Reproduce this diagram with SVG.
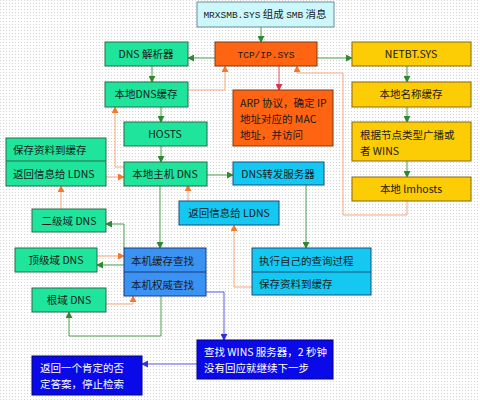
<svg xmlns="http://www.w3.org/2000/svg" width="480" height="400" viewBox="0 0 480 400">
<defs>
<pattern id="dots" width="3" height="3" patternUnits="userSpaceOnUse">
<rect width="3" height="3" fill="#ffffff"/>
<rect width="1" height="1" fill="#d4d4d4"/>
</pattern>
<marker id="ag" viewBox="0 0 8 8" refX="7" refY="4" markerWidth="7" markerHeight="7" orient="auto" markerUnits="userSpaceOnUse"><path d="M0,0 L8,4 L0,8 z" fill="#2f8a2f"/></marker>
<marker id="ao" viewBox="0 0 8 8" refX="7" refY="4" markerWidth="7" markerHeight="7" orient="auto" markerUnits="userSpaceOnUse"><path d="M0,0 L8,4 L0,8 z" fill="#f07a30"/></marker>
<marker id="ar" viewBox="0 0 8 8" refX="7" refY="4" markerWidth="7" markerHeight="7" orient="auto" markerUnits="userSpaceOnUse"><path d="M0,0 L8,4 L0,8 z" fill="#e0304a"/></marker>
<marker id="ab" viewBox="0 0 8 8" refX="7" refY="4" markerWidth="7" markerHeight="7" orient="auto" markerUnits="userSpaceOnUse"><path d="M0,0 L8,4 L0,8 z" fill="#3030e0"/></marker>
</defs>
<style>
text{font-family:"Noto Sans CJK SC","Liberation Sans",sans-serif;font-size:10.5px;fill:#1a1a1a}
.c{text-anchor:middle}
.w{fill:#ffffff}
.mono{font-family:"Liberation Mono","Noto Sans CJK SC",monospace;font-size:9.5px}
.green{fill:#1ee59b;stroke:#2a6a4a;stroke-width:1}
.cyan{fill:#14c8f2;stroke:#1a4a7a;stroke-width:1}
.blue{fill:#3a92f2;stroke:#1a3a7a;stroke-width:1}
.dblue{fill:#0a0ae8;stroke:#000080;stroke-width:1}
.orange{fill:#ff6412;stroke:#7a3a10;stroke-width:1}
.yellow{fill:#fccc04;stroke:#8a6a10;stroke-width:1}
.light{fill:#ccf8fc;stroke:#6a8a9a;stroke-width:1}
.lg{fill:none;stroke:#4a9e4a;stroke-width:1;marker-end:url(#ag)}
.lo{fill:none;stroke:#f5a878;stroke-width:1;marker-end:url(#ao)}
.lr{fill:none;stroke:#e05060;stroke-width:1;marker-end:url(#ar)}
.lb{fill:none;stroke:#5a5ae8;stroke-width:1;marker-end:url(#ab)}
</style>
<rect width="480" height="400" fill="url(#dots)"/>

<g id="connectors">
<path class="lg" d="M261,27 V42"/>
<path class="lg" d="M215,58 H188"/>
<path class="lg" d="M152,66 V82"/>
<path class="lo" d="M188,90 H225 V66"/>
<path class="lg" d="M161,107 V122"/>
<path class="lg" d="M161,146 V162"/>
<path class="lo" d="M124,167 H115 V107"/>
<path class="lo" d="M106,177 H124"/>
<path class="lo" d="M61,209 V186"/>
<path class="lg" d="M124,248 V224 H106"/>
<path class="lo" d="M97,256 H124"/>
<path class="lg" d="M124,265 H97"/>
<path class="lo" d="M106,304 H133 V296"/>
<path class="lg" d="M161,296 V336 H69 V312"/>
<path class="lg" d="M160,185 V248"/>
<path class="lg" d="M206,175 H233"/>
<path class="lo" d="M188,201 V185"/>
<path class="lg" d="M306,185 V248"/>
<path class="lo" d="M252,287 H234 V225"/>
<path class="lb" d="M206,292 H224 V340"/>
<path class="lb" d="M197,364 H142"/>
<path class="lr" d="M279,66 V90"/>
<path class="lg" d="M317,58 H352"/>
<path class="lg" d="M407,66 V82"/>
<path class="lg" d="M407,107 V122"/>
<path class="lg" d="M407,161 V177"/>
<path class="lo" d="M407,201 V215 H343 V73 H297 V66"/>
</g>

<g id="mrxsmb"><rect class="light" x="197" y="2" width="137" height="25"/><text class="c" x="265" y="18"><tspan class="mono">MRXSMB.SYS</tspan> 组成 <tspan class="mono">SMB</tspan> 消息</text></g>
<g id="tcpip"><rect class="orange" x="215" y="42" width="102" height="24"/><text class="c mono" x="266" y="58">TCP/IP.SYS</text></g>
<g id="dns-resolver"><rect class="green" x="105" y="42" width="83" height="24"/><text class="c" x="146" y="58">DNS 解析器</text></g>
<g id="local-dns-cache"><rect class="green" x="105" y="82" width="83" height="25"/><text class="c" x="146" y="98">本地DNS缓存</text></g>
<g id="hosts"><rect class="green" x="124" y="122" width="83" height="24"/><text class="c" x="165" y="138">HOSTS</text></g>
<g id="local-host-dns"><rect class="green" x="124" y="162" width="83" height="24"/><text class="c" x="165" y="178">本地主机 DNS</text></g>
<g id="save-return-left"><rect class="green" x="6" y="138" width="100" height="48"/><line x1="6" y1="161" x2="106" y2="161" stroke="#2a6a4a"/><text x="13" y="154">保存资料到缓存</text><text x="13" y="178">返回信息给 LDNS</text></g>
<g id="second-level"><rect class="green" x="32" y="209" width="74" height="23"/><text class="c" x="69" y="225">二级域 DNS</text></g>
<g id="top-level"><rect class="green" x="15" y="248" width="82" height="24"/><text class="c" x="56" y="264">顶级域 DNS</text></g>
<g id="root"><rect class="green" x="32" y="288" width="74" height="24"/><text class="c" x="69" y="304">根域 DNS</text></g>
<g id="local-lookup"><rect class="blue" x="124" y="248" width="82" height="48"/><line x1="124" y1="272" x2="206" y2="272" stroke="#1a3a7a"/><text x="131" y="265">本机缓存查找</text><text x="131" y="289">本机权威查找</text></g>
<g id="forwarder"><rect class="cyan" x="233" y="162" width="91" height="23"/><text class="c" x="278" y="178">DNS转发服务器</text></g>
<g id="return-mid"><rect class="cyan" x="179" y="201" width="100" height="24"/><text class="c" x="229" y="217">返回信息给 LDNS</text></g>
<g id="own-query"><rect class="cyan" x="252" y="248" width="119" height="47"/><line x1="252" y1="272" x2="371" y2="272" stroke="#1a4a7a"/><text x="259" y="265">执行自己的查询过程</text><text x="259" y="288">保存资料到缓存</text></g>
<g id="arp"><rect class="orange" x="233" y="90" width="100" height="56"/><text x="240" y="107">ARP 协议，确定 IP</text><text x="240" y="123">地址对应的  MAC</text><text x="240" y="139">地址，并访问</text></g>
<g id="netbt"><rect class="yellow" x="352" y="42" width="119" height="24"/><text class="c" x="411" y="58">NETBT.SYS</text></g>
<g id="name-cache"><rect class="yellow" x="352" y="82" width="119" height="25"/><text class="c" x="411" y="98">本地名称缓存</text></g>
<g id="broadcast"><rect class="yellow" x="352" y="122" width="119" height="39"/><text x="360" y="139">根据节点类型广播或</text><text x="360" y="155">者 WINS</text></g>
<g id="lmhosts"><rect class="yellow" x="352" y="177" width="119" height="24"/><text class="c" x="411" y="193">本地 lmhosts</text></g>
<g id="wins"><rect class="dblue" x="197" y="340" width="136" height="39"/><text class="w" x="204" y="356">查找 WINS 服务器，2 秒钟</text><text class="w" x="204" y="372">没有回应就继续下一步</text></g>
<g id="negative"><rect class="dblue" x="32" y="356" width="110" height="39"/><text class="w" x="40" y="372">返回一个肯定的否</text><text class="w" x="40" y="388">定答案，停止检索</text></g>
</svg>
